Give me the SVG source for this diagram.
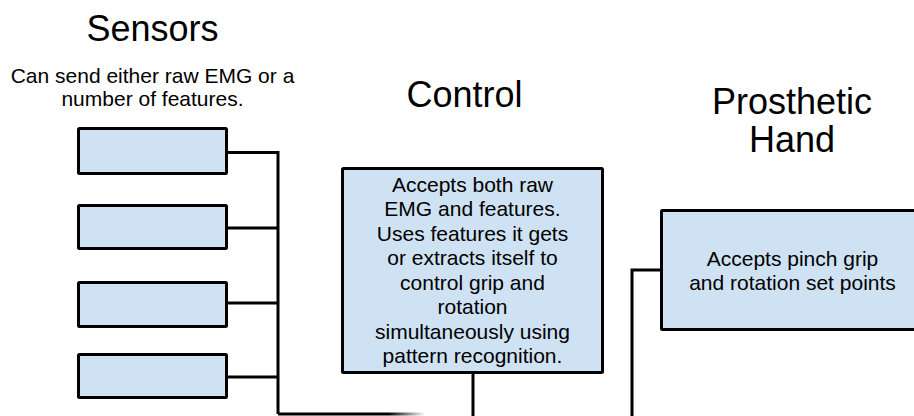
<svg xmlns="http://www.w3.org/2000/svg" width="914" height="416" viewBox="0 0 914 416">
<style>
.box{fill:#cfe2f3;stroke:#000;stroke-width:3}
.title{font-family:"Liberation Sans",Arial,sans-serif;font-size:36px;fill:#000;text-anchor:middle}
.txt{font-family:"Liberation Sans",Arial,sans-serif;font-size:21px;fill:#000;text-anchor:middle}
.con{fill:none;stroke:#000;stroke-width:3}
</style>
<defs>
<linearGradient id="fade" gradientUnits="userSpaceOnUse" x1="278" y1="0" x2="425" y2="0">
<stop offset="0.75" stop-color="#000"/>
<stop offset="1" stop-color="#000" stop-opacity="0"/>
</linearGradient>
</defs>
<rect width="914" height="416" fill="#fff"/>
<g id="labels">
<text class="title" x="152.5" y="40.5">Sensors</text>
<text class="txt" x="152.5" y="82.5">Can send either raw EMG or a</text>
<text class="txt" x="152.5" y="105.5">number of features.</text>
<text class="title" x="464.5" y="106.5">Control</text>
<text class="title" x="792" y="114">Prosthetic</text>
<text class="title" x="792" y="152">Hand</text>
</g>
<g id="connectors">
<path class="con" d="M227 152.5H278M227 228H278M227 303H278M227 377H278M278 151V414"/>
<path d="M278 414H425" fill="none" stroke="url(#fade)" stroke-width="3"/>
<path class="con" d="M473 373V416"/>
<path class="con" d="M661 270H632V416"/>
</g>
<g id="sensor1"><rect class="box" x="78.5" y="128.5" width="148" height="45" rx="1"/></g>
<g id="sensor2"><rect class="box" x="78.5" y="205.5" width="148" height="43" rx="1"/></g>
<g id="sensor3"><rect class="box" x="78.5" y="282.5" width="148" height="44" rx="1"/></g>
<g id="sensor4"><rect class="box" x="78.5" y="354.5" width="148" height="43" rx="1"/></g>
<g id="control">
<rect class="box" x="342.5" y="168.5" width="260" height="204" rx="1"/>
<text class="txt" x="472.5" y="191.5">Accepts both raw</text>
<text class="txt" x="472.5" y="216">EMG and features.</text>
<text class="txt" x="472.5" y="240.5">Uses features it gets</text>
<text class="txt" x="472.5" y="265">or extracts itself to</text>
<text class="txt" x="472.5" y="289.5">control grip and</text>
<text class="txt" x="472.5" y="314">rotation</text>
<text class="txt" x="472.5" y="338.5">simultaneously using</text>
<text class="txt" x="472.5" y="363">pattern recognition.</text>
</g>
<g id="hand">
<rect class="box" x="661.5" y="210.5" width="270" height="119" rx="1"/>
<text class="txt" x="792.5" y="266">Accepts pinch grip</text>
<text class="txt" x="792.5" y="289.5">and rotation set points</text>
</g>
</svg>
